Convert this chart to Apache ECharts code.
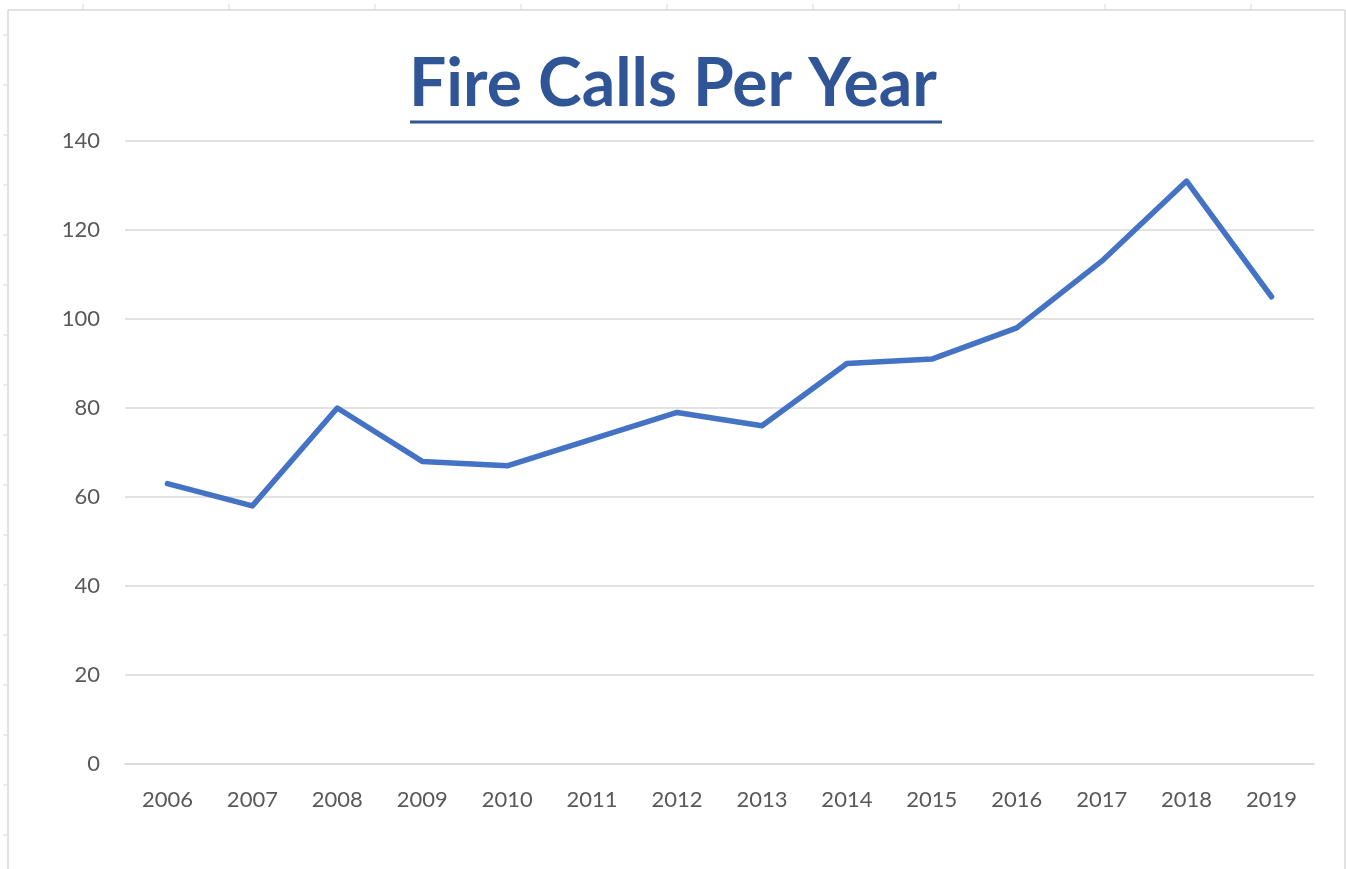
<!DOCTYPE html>
<html>
<head>
<meta charset="utf-8">
<script src="https://cdn.jsdelivr.net/npm/echarts@6/dist/echarts.min.js"></script>
<style>
  html, body { margin: 0; padding: 0; background: #fff; }
  #chart { width: 1346px; height: 869px; }
</style>
</head>
<body>
<div id="chart"></div>
<script>
var years = ['2006', '2007', '2008', '2009', '2010', '2011', '2012', '2013', '2014', '2015', '2016', '2017', '2018', '2019'];
var calls = [63, 58, 80, 68, 67, 73, 79, 76, 90, 91, 98, 113, 131, 105];
var yTicks = [0, 20, 40, 60, 80, 100, 120, 140];

var chart = echarts.init(document.getElementById('chart'));

// sheet frame + little cell marks around it
var frame = [
  { type: 'line', shape: { x1: 8, y1: 10, x2: 1345, y2: 10 }, style: { stroke: '#d9d9d9', lineWidth: 1.5 } },
  { type: 'line', shape: { x1: 8, y1: 10, x2: 8, y2: 869 }, style: { stroke: '#d9d9d9', lineWidth: 1.5 } },
  { type: 'line', shape: { x1: 1345, y1: 10, x2: 1345, y2: 869 }, style: { stroke: '#d9d9d9', lineWidth: 1.5 } },
  // title underline
  { type: 'line', shape: { x1: 410, y1: 122, x2: 942, y2: 122 }, style: { stroke: '#2f5597', lineWidth: 3 } }
];
for (var i = 0; i < 9; i++) {
  var x = 83 + i * 146;
  frame.push({ type: 'line', shape: { x1: x, y1: 4, x2: x, y2: 10 }, style: { stroke: '#d9d9d9', lineWidth: 1 } });
}
for (var j = 0; j < 17; j++) {
  var y = 35 + j * 50;
  frame.push({ type: 'line', shape: { x1: 3, y1: y, x2: 8, y2: y }, style: { stroke: '#d9d9d9', lineWidth: 1 } });
}

var option = {
  animation: false,
  title: {
    text: 'Fire Calls Per Year',
    left: 'center',
    top: 47,
    textStyle: {
      fontFamily: 'Lato',
      fontWeight: 'bold',
      fontSize: 66,
      color: '#2f5597'
    }
  },
  grid: {
    left: 125,
    right: 32,
    top: 141,
    bottom: 105
  },
  xAxis: {
    type: 'category',
    data: years,
    boundaryGap: true,
    axisLine: { lineStyle: { color: '#d9d9d9', width: 1.5 } },
    axisTick: { show: false },
    axisLabel: {
      color: '#595959',
      fontFamily: 'Lato',
      fontSize: 22,
      margin: 25
    }
  },
  yAxis: {
    type: 'value',
    min: yTicks[0],
    max: yTicks[yTicks.length - 1],
    interval: 20,
    axisLine: { show: false },
    axisTick: { show: false },
    splitLine: { lineStyle: { color: '#d9d9d9', width: 1.5 } },
    axisLabel: {
      color: '#595959',
      fontFamily: 'Lato',
      fontSize: 22,
      margin: 25
    }
  },
  series: [
    {
      type: 'line',
      data: calls,
      symbol: 'none',
      lineStyle: { color: '#4472c4', width: 5.5, cap: 'round', join: 'round' }
    }
  ],
  graphic: frame
};

chart.setOption(option);
</script>
</body>
</html>
